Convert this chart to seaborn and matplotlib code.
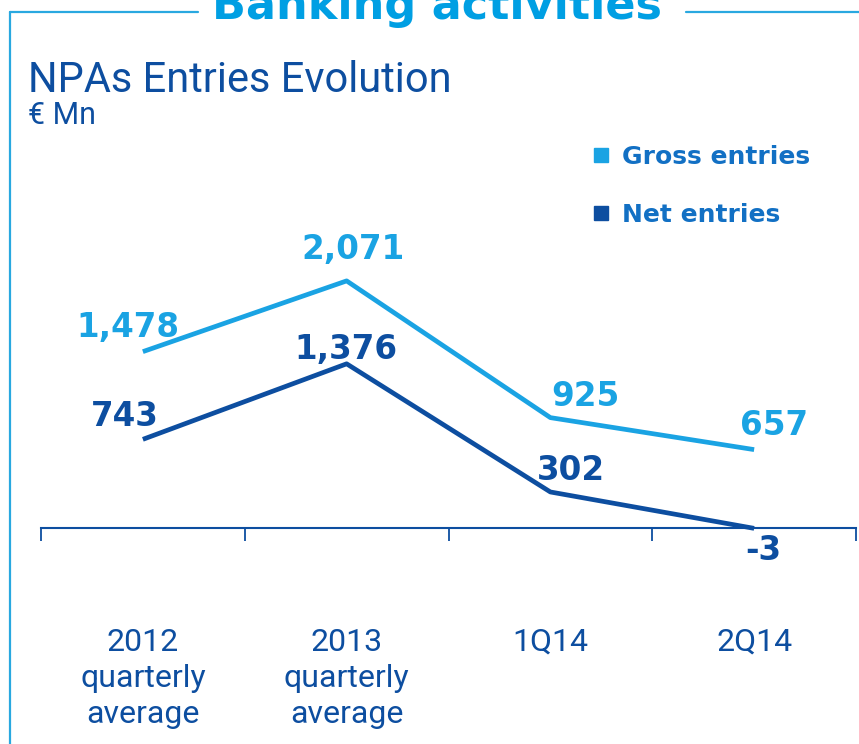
import matplotlib
matplotlib.use('Agg')
import matplotlib.pyplot as plt
from matplotlib.lines import Line2D
import seaborn as sns
import pandas as pd

categories = ['2012\nquarterly\naverage', '2013\nquarterly\naverage', '1Q14', '2Q14']
gross_entries = [1478, 2071, 925, 657]
net_entries = [743, 1376, 302, -3]
series_names = ['Gross entries', 'Net entries']

LIGHT = '#1AA3E3'
DARK = '#0D4EA0'
TEXT = '#0D4EA0'
LEGEND_TEXT = '#1270C4'

df = pd.DataFrame({
    'period': categories * 2,
    'value': gross_entries + net_entries,
    'series': [series_names[0]] * 4 + [series_names[1]] * 4,
})

sns.set_style('white')
plt.rcParams['font.family'] = ['DejaVu Sans']

W, H = 859, 744
fig = plt.figure(figsize=(W / 100, H / 100), dpi=100)
# axes: x from px 41 to 856, y zero at px 528, top at px 218
ax = fig.add_axes([41 / W, 1 - 528 / H, (856 - 41) / W, 310 / H])

sns.lineplot(data=df, x='period', y='value', hue='series',
             palette=[LIGHT, DARK], linewidth=3.4, ax=ax, legend=False,
             sort=False)
for line in ax.lines:
    line.set_clip_on(False)
    line.set_solid_capstyle('butt')

ax.set_xlim(-0.5, 3.5)
ax.set_ylim(0, 2598)
ax.set_xlabel('')
ax.set_ylabel('')
for s in ['top', 'right', 'left']:
    ax.spines[s].set_visible(False)
ax.spines['bottom'].set_color(DARK)
ax.spines['bottom'].set_linewidth(1.5)
ax.set_yticks([])
ax.set_xticks([-0.5, 0.5, 1.5, 2.5, 3.5])
ax.set_xticklabels([])
ax.tick_params(axis='x', direction='out', length=9, width=1.3, color=DARK, bottom=True)

# category labels
for i, lab in enumerate(categories):
    ax.annotate(lab, xy=(i, 0), xytext=(0, -100), textcoords='offset pixels',
                ha='center', va='top', fontsize=23, color=TEXT,
                family='Roboto', linespacing=1.3, annotation_clip=False)

# value labels
gross_off = [(-15, 24), (6, 31), (35, 21), (20, 24)]
net_off = [(-18, 23), (-1, 14), (21, 21), (9, -22)]
for i, v in enumerate(gross_entries):
    ax.annotate(f'{v:,}', xy=(i, v), xytext=gross_off[i], textcoords='offset pixels',
                ha='center', va='center', fontsize=23.5, fontweight='bold',
                color=LIGHT, annotation_clip=False)
for i, v in enumerate(net_entries):
    ax.annotate(f'{v:,}', xy=(i, v), xytext=net_off[i], textcoords='offset pixels',
                ha='center', va='center', fontsize=23.5, fontweight='bold',
                color=DARK, annotation_clip=False)

# legend
handles = [Line2D([], [], marker='s', linestyle='none', markersize=10,
                  markerfacecolor=c, markeredgecolor=c) for c in [LIGHT, DARK]]
leg = fig.legend(handles, series_names, loc='upper left',
                 bbox_to_anchor=(578 / W, 1 - 132 / H), frameon=False,
                 prop={'size': 18, 'weight': 'bold'}, labelspacing=1.38,
                 handlelength=0.8, handletextpad=0.45, borderpad=0)
for t in leg.get_texts():
    t.set_color(LEGEND_TEXT)

# titles
fig.text(28 / W, 1 - 92 / H, 'NPAs Entries Evolution', fontsize=30,
         color=TEXT, family='Roboto', va='baseline', ha='left')
fig.text(28 / W, 1 - 124 / H, '€ Mn', fontsize=22,
         color=TEXT, family='Roboto', va='baseline', ha='left')
fig.text(437 / W, 1 - 19 / H, 'Banking activities', fontsize=32,
         fontweight='bold', color='#009FE3', va='baseline', ha='center')

# frame lines
frame_y = 1 - 12 / H
fig.add_artist(Line2D([10 / W, 10 / W], [0, frame_y], color='#29A8E0', lw=1.6))
fig.add_artist(Line2D([10 / W, 198 / W], [frame_y, frame_y], color='#29A8E0', lw=1.6))
fig.add_artist(Line2D([686 / W, 1], [frame_y, frame_y], color='#29A8E0', lw=1.6))

fig.savefig('out.png', dpi=100)
